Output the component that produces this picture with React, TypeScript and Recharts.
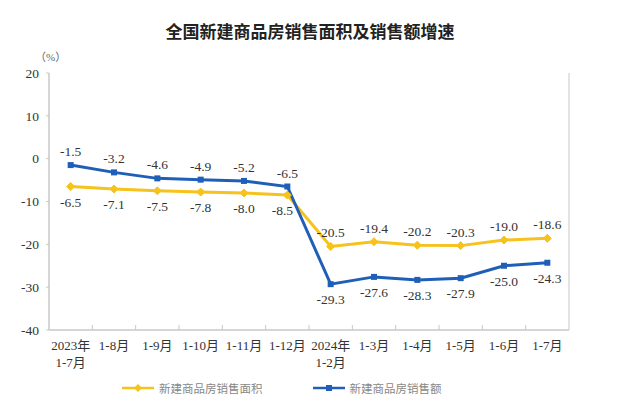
import { LineChart, Line, XAxis, YAxis, LabelList } from "recharts";

const categories = [
  "2023年\n1-7月",
  "1-8月",
  "1-9月",
  "1-10月",
  "1-11月",
  "1-12月",
  "2024年\n1-2月",
  "1-3月",
  "1-4月",
  "1-5月",
  "1-6月",
  "1-7月",
];
const areaGrowth = [-6.5, -7.1, -7.5, -7.8, -8.0, -8.5, -20.5, -19.4, -20.2, -20.3, -19.0, -18.6];
const salesGrowth = [-1.5, -3.2, -4.6, -4.9, -5.2, -6.5, -29.3, -27.6, -28.3, -27.9, -25.0, -24.3];
const yTicks = [20, 10, 0, -10, -20, -30, -40];
const xTicks = [0, 0.5, 1, 1.5, 2, 2.5, 3, 3.5, 4, 4.5, 5, 5.5, 6, 6.5, 7, 7.5, 8, 8.5, 9, 9.5, 10, 10.5, 11];

const data = categories.map((name, i) => ({
  idx: i,
  name,
  area: areaGrowth[i],
  sales: salesGrowth[i],
}));

const YELLOW = "#F6C21C";
const BLUE = "#1F5FB8";
const FRAME = "#c8c8c8";
const SERIF = '"Liberation Serif", "Times New Roman", "Noto Sans CJK SC", serif';

const XTick = (props: any) => {
  const { x, y, payload } = props;
  const v = payload.value as number;
  if (!Number.isInteger(v)) {
    return <line x1={x} x2={x} y1={y} y2={y - 5} stroke={FRAME} strokeWidth={1} />;
  }
  const lines = categories[v].split("\n");
  return (
    <text x={x} y={y} textAnchor="middle" fontFamily={SERIF} fontSize={13} fill="#333">
      {lines.map((l, i) => (
        <tspan key={i} x={x} dy={i === 0 ? 20 : 17}>
          {l}
        </tspan>
      ))}
    </text>
  );
};

const Diamond = (props: any) => {
  const { cx, cy } = props;
  if (cx == null || cy == null) return null;
  const r = 4;
  return (
    <path
      d={`M${cx},${cy - r}L${cx + r},${cy}L${cx},${cy + r}L${cx - r},${cy}Z`}
      fill={YELLOW}
      stroke={YELLOW}
    />
  );
};

const Square = (props: any) => {
  const { cx, cy } = props;
  if (cx == null || cy == null) return null;
  return <rect x={cx - 3} y={cy - 3} width={6} height={6} fill={BLUE} />;
};

const makeLabel = (aboveFirstHalf: boolean) => (props: any) => {
  const { x, y, value, index } = props;
  const above = index < 6 ? aboveFirstHalf : !aboveFirstHalf;
  // the last point before the drop sits on the falling line, nudge it left
  const dx = index === 5 && !above ? -5 : 0;
  return (
    <text
      x={x + dx}
      y={above ? y - 9 : y + 20}
      textAnchor="middle"
      fontFamily={SERIF}
      fontSize={13.5}
      fill="#333"
    >
      {Number(value).toFixed(1)}
    </text>
  );
};

const LegendItem = ({ color, label, square }: { color: string; label: string; square?: boolean }) => (
  <div style={{ display: "flex", alignItems: "center" }}>
    <svg width={34} height={10}>
      <line x1={0} x2={32} y1={5} y2={5} stroke={color} strokeWidth={2.5} />
      {square ? (
        <rect x={13} y={2} width={6} height={6} fill={color} />
      ) : (
        <path d="M16,1L20,5L16,9L12,5Z" fill={color} />
      )}
    </svg>
    <span style={{ fontSize: 11.5, color: "#888", marginLeft: 3 }}>{label}</span>
  </div>
);

export default function App() {
  return (
    <div
      style={{
        position: "relative",
        width: 626,
        height: 413,
        margin: -8,
        background: "#fff",
        fontFamily: '"Noto Sans CJK SC", sans-serif',
      }}
    >
      <div
        style={{
          position: "absolute",
          top: 18,
          left: 0,
          width: 620,
          textAlign: "center",
          fontSize: 17,
          fontWeight: 700,
          color: "#222",
        }}
      >
        全国新建商品房销售面积及销售额增速
      </div>
      <div
        style={{
          position: "absolute",
          top: 48,
          left: 35,
          fontSize: 11,
          color: "#666",
          fontFamily: SERIF,
        }}
      >
        （%）
      </div>
      <LineChart
        width={626}
        height={413}
        data={data}
        margin={{ top: 73, right: 56, bottom: 43, left: 0 }}
      >
        <XAxis
          dataKey="idx"
          type="number"
          domain={[-0.5, 11.5]}
          ticks={xTicks}
          interval={0}
          tick={<XTick />}
          tickLine={false}
          tickSize={0}
          tickMargin={0}
          height={40}
          axisLine={{ stroke: FRAME, strokeWidth: 1.5 }}
        />
        <XAxis
          xAxisId="top"
          orientation="top"
          dataKey="idx"
          type="number"
          domain={[-0.5, 11.5]}
          tick={false}
          tickLine={false}
          height={0}
          axisLine={{ stroke: FRAME, strokeWidth: 1 }}
        />
        <YAxis
          domain={[-40, 20]}
          ticks={yTicks}
          interval={0}
          width={49}
          tickSize={3}
          tickMargin={7}
          tickLine={{ stroke: FRAME }}
          axisLine={{ stroke: FRAME, strokeWidth: 1.5 }}
          tick={{ fontFamily: SERIF, fontSize: 13.5, fill: "#333" }}
        />
        <YAxis
          yAxisId="right"
          orientation="right"
          domain={[-40, 20]}
          tick={false}
          tickLine={false}
          width={1}
          axisLine={{ stroke: FRAME, strokeWidth: 1 }}
        />
        <Line
          dataKey="area"
          stroke={YELLOW}
          strokeWidth={3}
          dot={<Diamond />}
          activeDot={false}
          isAnimationActive={false}
        >
          <LabelList dataKey="area" content={makeLabel(false)} />
        </Line>
        <Line
          dataKey="sales"
          stroke={BLUE}
          strokeWidth={3}
          dot={<Square />}
          activeDot={false}
          isAnimationActive={false}
        >
          <LabelList dataKey="sales" content={makeLabel(true)} />
        </Line>
      </LineChart>
      <div
        style={{
          position: "absolute",
          top: 380,
          left: 122,
          display: "flex",
          gap: 50,
        }}
      >
        <LegendItem color={YELLOW} label="新建商品房销售面积" />
        <LegendItem color={BLUE} label="新建商品房销售额" square />
      </div>
    </div>
  );
}
